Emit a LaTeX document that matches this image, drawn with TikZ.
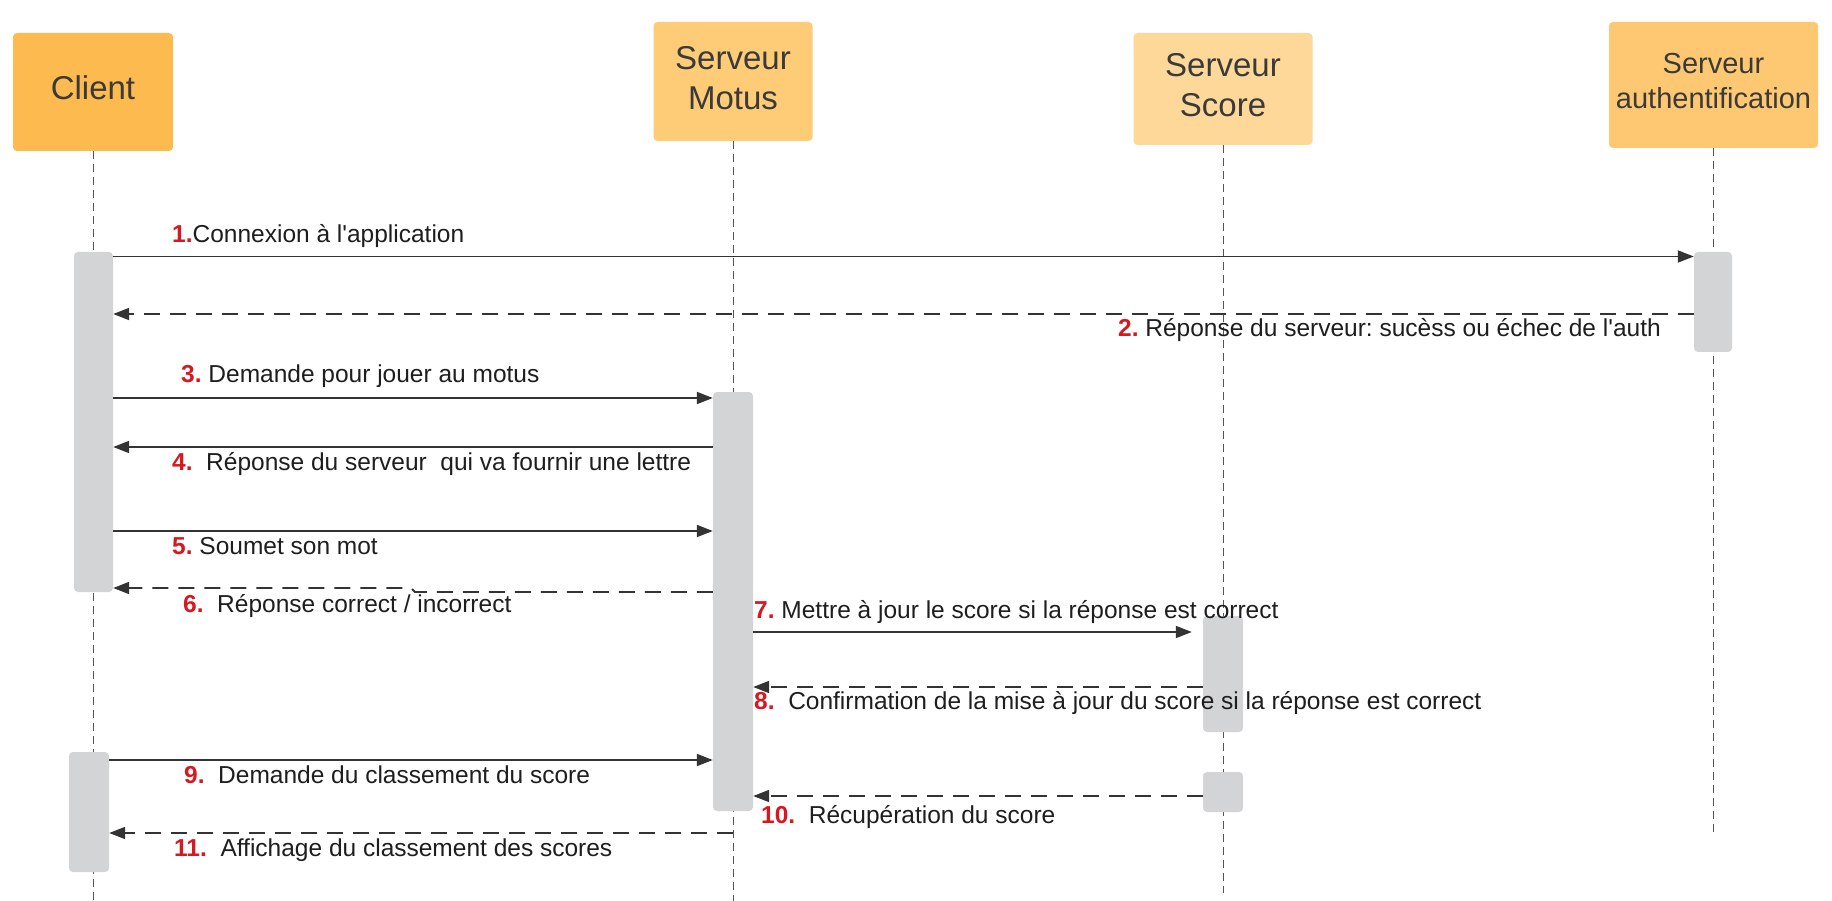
\documentclass[tikz,border=0pt]{standalone}
\usepackage{fontspec}
\setmainfont{Liberation Sans}
\usetikzlibrary{arrows.meta}
\definecolor{clientfill}{HTML}{FDBA4F}
\definecolor{motusfill}{HTML}{FECB76}
\definecolor{scorefill}{HTML}{FED899}
\definecolor{authfill}{HTML}{FDC871}
\definecolor{headtext}{HTML}{3A3A3A}
\definecolor{barfill}{HTML}{D3D4D6}
\definecolor{linecol}{HTML}{333333}
\definecolor{lifecol}{HTML}{555555}
\definecolor{numred}{HTML}{D7191F}
\definecolor{labeltext}{HTML}{1E1E1E}
\newcommand\stepnum[1]{{\bfseries\color{numred}#1}}
\frenchspacing
\begin{document}
\begin{tikzpicture}[x=1pt,y=-1pt,
  header/.style={rectangle, rounded corners=4pt, inner sep=0pt, text=headtext, align=center, text depth=8pt, font=\fontsize{33}{40}\selectfont},
  actbar/.style={rectangle, rounded corners=4pt, fill=barfill, inner sep=0pt, minimum width=40pt},
  lifeline/.style={draw=lifecol, line width=0.9pt, dash pattern=on 8pt off 5pt},
  msg/.style={draw=linecol, line width=1.8pt, -{Triangle[length=16pt,width=12pt]}},
  reply/.style={msg, dash pattern=on 16pt off 10pt},
  lbl/.style={inner sep=0pt, text=labeltext, font=\fontsize{24.5}{29}\selectfont},
]
\fill[white] (0,0) rectangle (1832,901);
\useasboundingbox (0,0) rectangle (1832,901);

% headers
\node[header, fill=clientfill, minimum width=160pt, minimum height=118pt] (client) at (93,92) {Client};
\node[header, fill=motusfill, minimum width=159pt, minimum height=119pt] (motus) at (733,81.5) {Serveur\\Motus};
\node[header, fill=scorefill, minimum width=179pt, minimum height=112pt] (score) at (1223,89) {Serveur\\Score};
\node[header, fill=authfill, minimum width=209pt, minimum height=126pt, font=\fontsize{29}{35}\selectfont] (auth) at (1713.5,85) {Serveur\\authentification};

% lifeline ends
\coordinate (cend) at (93,901);
\coordinate (mend) at (733,901);
\coordinate (send) at (1223,893);
\coordinate (aend) at (1713.5,837);
\draw[lifeline] (client.south) -- (cend);
\draw[lifeline] (motus.south) -- (mend);
\draw[lifeline] (score.south) -- (send);
\draw[lifeline] (auth.south) -- (aend);

% activation bars
\node[actbar, minimum width=39pt, minimum height=340pt] (cb1) at (93.5,422) {};
\node[actbar, minimum width=38pt, minimum height=100pt] (ab) at (1713,302) {};
\node[actbar, minimum height=419pt] (mb) at (733,601.5) {};
\node[actbar, minimum height=116pt] (sb1) at (1223,674) {};
\node[actbar, minimum height=40pt] (sb2) at (1223,792) {};
\node[actbar, minimum height=120pt] (cb2) at (89,812) {};

% message levels
\coordinate (m1) at (0,256.5);
\coordinate (m2) at (0,314);
\coordinate (m3) at (0,398);
\coordinate (m4) at (0,447);
\coordinate (m5) at (0,531);
\coordinate (m6r) at (0,592);
\coordinate (m6l) at (0,588);
\coordinate (j1) at (415,592);
\coordinate (j2) at (411,588);
\coordinate (m7) at (0,632);
\coordinate (m8) at (0,687);
\coordinate (m9) at (0,760);
\coordinate (m10) at (0,796);
\coordinate (m11) at (0,833);

% messages
\draw[msg] (cb1.east |- m1) -- (ab.west |- m1);
\draw[reply] (ab.west |- m2) -- (cb1.east |- m2);
\draw[msg] (cb1.east |- m3) -- (mb.west |- m3);
\draw[msg] (mb.west |- m4) -- (cb1.east |- m4);
\draw[msg] (cb1.east |- m5) -- (mb.west |- m5);
\draw[reply] (mb.west |- m6r) -- (j1) -- (j2) -- (cb1.east |- m6l);
\draw[msg, shorten >=11pt] (mb.east |- m7) -- (sb1.west |- m7);
\draw[reply] (sb1.west |- m8) -- (mb.east |- m8);
\draw[msg] (cb2.east |- m9) -- (mb.west |- m9);
\draw[reply] (sb2.west |- m10) -- (mb.east |- m10);
\draw[reply] (motus.south |- m11) -- (cb2.east |- m11);

% labels
\node[lbl, anchor=base west] (l1) at (172,243) {\stepnum{1.}Connexion à l\textquotesingle application};
\node[lbl, anchor=base east] (l2) at (1661,337) {\stepnum{2.} Réponse du serveur: sucèss ou échec de l\textquotesingle auth};
\node[lbl, anchor=base west] (l3) at (181,383) {\stepnum{3.} Demande pour jouer au motus};
\node[lbl, anchor=base west] (l4) at (172,470) {\stepnum{4.}\ \ Réponse du serveur\ \ qui va fournir une lettre};
\node[lbl, anchor=base west] (l5) at (172,554) {\stepnum{5.} Soumet son mot};
\node[lbl, anchor=base west] (l6) at (183,612) {\stepnum{6.}\ \ Réponse correct / incorrect};
\node[lbl, anchor=base west] (l7) at (754,618) {\stepnum{7.} Mettre à jour le score si la réponse est correct};
\node[lbl, anchor=base west] (l8) at (754,709) {\stepnum{8.}\ \ Confirmation de la mise à jour du score si la réponse est correct};
\node[lbl, anchor=base west] (l9) at (184,783) {\stepnum{9.}\ \ Demande du classement du score};
\node[lbl, anchor=base west] (l10) at (761,823) {\stepnum{10.}\ \ Récupération du score};
\node[lbl, anchor=base west] (l11) at (174,856) {\stepnum{11.}\ \ Affichage du classement des scores};
\end{tikzpicture}
\end{document}
